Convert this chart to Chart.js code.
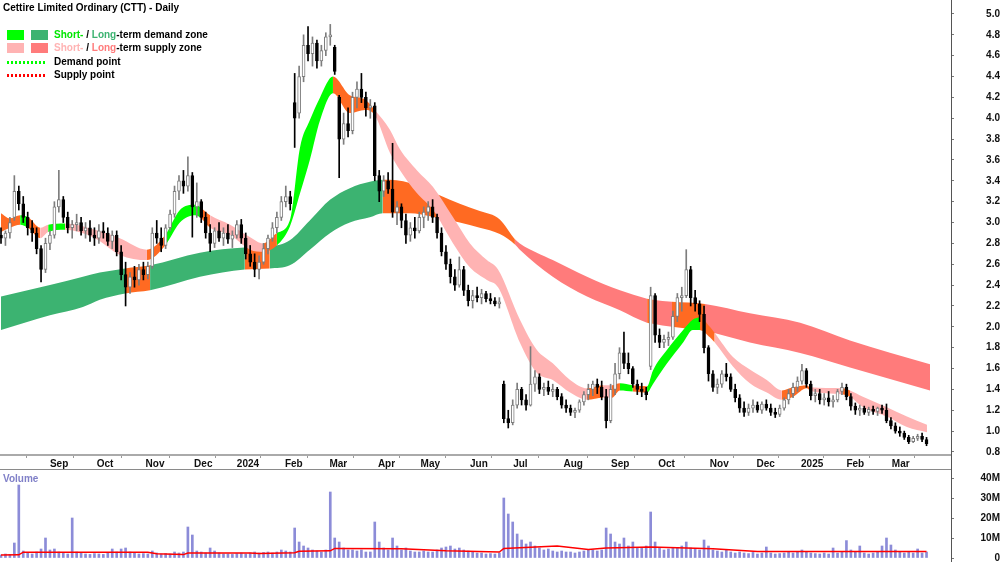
<!DOCTYPE html>
<html>
<head>
<meta charset="utf-8">
<title>Cettire Limited Ordinary (CTT) - Daily</title>
<script src="https://cdn.jsdelivr.net/npm/chart.js@4.4.1/dist/chart.umd.min.js"></script>
<style>
  html, body { margin:0; padding:0; background:#fff; }
  #wrap { position:relative; width:1000px; height:562px; overflow:hidden; background:#fff; }
  canvas { position:absolute; left:0; }
  #price { top:0; }
  #vol { top:470px; }
  .lbl { position:absolute; font:bold 10px "Liberation Sans", Arial, sans-serif; line-height:12px; white-space:nowrap; color:#000; }
  .sw { position:absolute; width:17px; height:10px; }
  .dot { position:absolute; width:38px; height:3px; }
</style>
</head>
<body>
<div id="wrap">
  <canvas id="price" width="1000" height="470"></canvas>
  <canvas id="vol" width="1000" height="92"></canvas>
  <div class="lbl" style="left:3px;top:2px;">Cettire Limited Ordinary (CTT) - Daily</div>
  <div class="sw" style="left:7px;top:30px;background:#00ff00"></div>
  <div class="sw" style="left:31px;top:30px;background:#3cb371"></div>
  <div class="lbl" style="left:54px;top:29px;"><span style="color:#00e600">Short-</span> / <span style="color:#3cb371">Long</span>-term demand zone</div>
  <div class="sw" style="left:7px;top:43px;background:#ffb3b3"></div>
  <div class="sw" style="left:31px;top:43px;background:#ff7b7b"></div>
  <div class="lbl" style="left:54px;top:42px;"><span style="color:#ffb3b3">Short-</span> / <span style="color:#ff7b7b">Long</span>-term supply zone</div>
  <div class="dot" style="left:7px;top:61px;background:repeating-linear-gradient(90deg,#00ff00 0 2px,transparent 2px 4px)"></div>
  <div class="lbl" style="left:54px;top:56px;">Demand point</div>
  <div class="dot" style="left:7px;top:74px;background:repeating-linear-gradient(90deg,#ff0000 0 2px,transparent 2px 4px)"></div>
  <div class="lbl" style="left:54px;top:69px;">Supply point</div>
  <div class="lbl" style="left:3px;top:473px;color:#8080c8;">Volume</div>
</div>
<script>
// ---------------- DATA (price in A$, volume in millions) ----------------
const openP = [
 2.88,2.85,2.90,3.05,3.30,3.18,3.05,2.95,2.90,2.75,2.55,2.80,
 2.88,3.15,3.22,3.05,2.95,2.98,3.00,2.92,2.95,2.88,2.85,2.92,2.90,2.82,2.88,2.72,
 2.50,2.38,2.48,2.45,2.55,2.50,2.58,2.90,2.85,2.78,2.95,3.08,3.30,3.40,3.35,3.45,3.15,
 3.20,3.05,2.90,2.80,2.92,2.85,2.90,2.84,2.88,2.98,2.85,2.70,2.62,2.55,2.62,2.75,
 2.85,2.95,3.05,3.20,3.25,4.15,4.05,4.40,4.70,4.62,4.72,4.55,4.65,4.78,4.68,
 4.20,3.80,3.95,3.88,4.20,4.28,4.20,4.10,4.12,3.45,3.30,3.40,3.32,3.10,3.15,
 3.02,2.88,2.95,2.92,3.05,3.10,3.15,3.05,2.90,2.72,2.60,2.48,2.40,2.55,2.35,2.25,2.30,2.28,2.32,2.27,2.25,2.22,
 1.45,1.12,1.08,1.25,1.40,1.30,1.25,1.45,1.52,1.40,1.42,1.38,1.40,1.33,1.25,1.22,1.18,1.20,1.28,1.35,1.40,1.45,1.42,
 1.33,1.10,1.40,1.55,1.75,1.65,1.60,1.45,1.40,1.38,1.62,2.30,1.92,1.85,1.88,1.90,2.10,2.28,2.30,2.55,2.28,2.22,2.12,1.80,1.55,
 1.42,1.45,1.55,1.52,1.40,1.32,1.22,1.18,1.22,1.25,1.20,1.26,1.22,1.18,1.16,1.22,1.30,1.36,1.42,1.48,1.58,1.45,1.34,1.36,
 1.30,1.32,1.28,1.30,1.38,1.42,1.33,1.24,1.20,1.22,1.18,1.21,1.19,1.22,1.20,1.10,1.05,1.00,0.98,0.94,0.90,0.93,0.95,0.92
];
const highP = [
 2.95,2.92,3.05,3.45,3.35,3.25,3.10,3.02,2.95,2.78,2.85,2.92,
 3.20,3.50,3.25,3.10,3.02,3.08,3.05,3.00,3.02,2.95,2.98,3.00,2.95,2.92,2.92,2.78,
 2.62,2.52,2.58,2.60,2.62,2.62,2.95,3.02,2.95,2.98,3.12,3.35,3.45,3.50,3.63,3.48,3.38,
 3.22,3.10,2.98,2.95,3.00,2.95,2.98,2.92,3.02,3.03,2.90,2.78,2.70,2.68,2.80,2.88,
 3.00,3.10,3.25,3.35,3.30,4.43,4.50,4.80,4.88,4.78,4.75,4.70,4.82,4.90,4.70,
 4.22,4.05,4.10,4.25,4.35,4.43,4.25,4.18,4.15,3.50,3.45,3.48,3.76,3.20,3.18,
 3.08,3.00,3.05,3.10,3.15,3.20,3.22,3.08,2.95,2.78,2.65,2.55,2.67,2.58,2.40,2.35,2.38,2.36,2.34,2.32,2.28,2.28,
 1.48,1.20,1.30,1.46,1.42,1.35,1.81,1.58,1.55,1.46,1.48,1.45,1.42,1.36,1.30,1.25,1.22,1.30,1.38,1.45,1.48,1.50,1.48,
 1.40,1.45,1.65,1.80,1.95,1.75,1.62,1.49,1.46,1.42,2.38,2.32,1.98,1.92,1.95,2.15,2.32,2.38,2.74,2.58,2.35,2.25,2.20,1.82,1.58,
 1.50,1.58,1.65,1.55,1.45,1.35,1.28,1.26,1.30,1.28,1.28,1.30,1.26,1.22,1.25,1.32,1.40,1.46,1.52,1.64,1.60,1.48,1.40,1.40,
 1.36,1.38,1.34,1.40,1.46,1.45,1.36,1.27,1.25,1.24,1.23,1.24,1.23,1.25,1.26,1.13,1.08,1.04,1.00,0.96,0.95,0.97,0.98,0.94
];
const lowP = [
 2.80,2.78,2.85,3.02,3.12,3.00,2.88,2.82,2.70,2.43,2.52,2.74,
 2.85,3.10,3.00,2.90,2.85,2.92,2.88,2.85,2.82,2.78,2.80,2.85,2.78,2.75,2.68,2.45,
 2.20,2.32,2.38,2.40,2.45,2.46,2.56,2.80,2.72,2.75,2.92,3.05,3.22,3.28,3.30,2.86,3.05,
 3.00,2.85,2.72,2.76,2.82,2.78,2.80,2.76,2.85,2.80,2.65,2.58,2.48,2.46,2.60,2.70,
 2.82,2.90,3.02,3.15,3.12,3.72,4.00,4.35,4.55,4.50,4.48,4.50,4.60,4.70,4.42,
 3.43,3.75,3.82,3.85,4.10,4.15,4.02,4.00,3.40,3.20,3.25,3.28,3.05,2.98,2.95,
 2.80,2.82,2.85,2.90,2.95,3.02,3.00,2.85,2.68,2.55,2.42,2.35,2.38,2.30,2.20,2.18,2.24,2.22,2.24,2.22,2.20,2.18,
 1.08,1.03,1.06,1.22,1.25,1.20,1.24,1.38,1.36,1.34,1.35,1.33,1.30,1.22,1.18,1.15,1.13,1.18,1.25,1.30,1.34,1.36,1.30,
 1.03,1.08,1.35,1.50,1.60,1.55,1.42,1.35,1.33,1.30,1.59,1.85,1.80,1.80,1.82,1.88,2.05,2.15,2.28,2.20,2.15,2.05,1.75,1.48,1.38,
 1.36,1.42,1.48,1.38,1.28,1.18,1.14,1.15,1.18,1.18,1.17,1.20,1.15,1.13,1.14,1.20,1.26,1.32,1.38,1.45,1.42,1.30,1.28,1.26,
 1.25,1.24,1.23,1.28,1.35,1.30,1.20,1.16,1.15,1.16,1.15,1.16,1.15,1.17,1.08,1.02,0.98,0.95,0.92,0.88,0.89,0.91,0.90,0.86
];
const closeP = [
 2.85,2.90,3.00,3.30,3.18,3.05,2.95,2.90,2.75,2.55,2.80,2.88,
 3.15,3.22,3.05,2.95,2.98,3.00,2.92,2.95,2.88,2.85,2.92,2.90,2.82,2.88,2.72,2.50,
 2.38,2.48,2.45,2.55,2.50,2.58,2.90,2.85,2.78,2.95,3.08,3.30,3.40,3.35,3.45,3.15,3.20,
 3.05,2.90,2.80,2.92,2.85,2.90,2.84,2.88,2.98,2.85,2.70,2.62,2.55,2.62,2.75,2.85,
 2.95,3.05,3.20,3.25,3.18,4.00,4.40,4.70,4.62,4.72,4.55,4.65,4.78,4.80,4.45,
 3.80,3.95,3.88,4.20,4.28,4.20,4.10,4.12,3.45,3.30,3.40,3.32,3.10,3.15,3.02,
 2.88,2.95,2.92,3.05,3.10,3.15,3.05,2.90,2.72,2.60,2.48,2.40,2.55,2.35,2.25,2.30,2.28,2.32,2.27,2.25,2.22,2.24,
 1.12,1.08,1.25,1.40,1.30,1.25,1.45,1.52,1.40,1.42,1.38,1.40,1.33,1.25,1.22,1.18,1.20,1.28,1.35,1.40,1.45,1.42,1.33,
 1.10,1.40,1.55,1.75,1.65,1.60,1.45,1.40,1.38,1.35,2.30,1.92,1.85,1.88,1.90,2.10,2.28,2.30,2.55,2.28,2.22,2.12,1.80,1.55,1.42,
 1.45,1.55,1.52,1.40,1.32,1.22,1.18,1.22,1.25,1.20,1.26,1.22,1.18,1.16,1.22,1.30,1.36,1.42,1.48,1.58,1.45,1.34,1.36,1.30,
 1.32,1.28,1.30,1.38,1.42,1.33,1.24,1.20,1.22,1.18,1.21,1.19,1.22,1.20,1.10,1.05,1.00,0.98,0.94,0.90,0.93,0.95,0.92,0.88
];
const volumeM = [
 1.5,2.0,1.8,7.5,36.5,3.5,2.5,2.0,3.0,4.5,10.0,4.0,
 4.5,3.0,2.5,2.0,20.0,3.0,2.5,2.0,1.8,2.2,2.0,1.8,2.5,4.5,3.0,4.5,
 5.0,3.0,2.5,2.0,2.2,2.0,3.5,2.5,2.0,2.2,2.0,3.0,2.5,3.0,15.5,11.5,3.5,
 3.0,2.5,5.0,3.5,2.5,2.0,2.0,1.8,2.2,2.5,2.0,2.5,3.0,2.5,2.8,3.0,
 2.5,3.0,4.0,3.5,3.0,15.0,8.0,6.0,5.0,4.0,3.5,3.0,4.0,33.0,10.0,
 8.0,5.0,4.0,4.0,3.5,4.0,3.0,3.0,18.0,8.0,5.0,4.0,10.0,6.0,4.0,
 5.0,3.5,3.0,3.0,3.5,3.0,3.0,4.0,5.0,5.5,6.0,4.5,5.0,4.0,3.5,3.0,2.5,2.5,2.0,2.2,2.0,2.5,
 30.0,22.0,18.0,12.0,9.0,7.0,8.0,6.0,5.0,4.0,4.5,3.5,3.0,3.5,3.0,3.0,2.5,3.0,3.5,4.0,4.0,3.5,4.0,
 15.0,12.0,8.0,7.0,10.0,6.0,8.0,5.0,5.0,6.0,23.0,8.0,5.0,4.0,4.5,5.0,5.0,6.0,8.0,5.0,4.5,4.0,9.0,6.0,4.0,
 3.5,3.0,4.0,3.0,2.5,3.0,2.5,2.2,2.8,2.0,2.5,5.5,2.5,2.0,2.2,2.5,3.0,2.5,3.0,4.0,3.0,2.5,2.2,2.0,
 2.5,2.0,5.0,2.5,3.0,8.7,4.0,3.0,6.0,2.5,2.0,2.5,3.0,6.0,10.0,6.5,4.0,3.0,2.5,3.0,2.5,4.5,2.5,3.0
];
// volume moving average (session index, millions)
const volMaX = [0,4,5,33,35,41,42,56,58,66,67,74,75,90,100,112,113,125,132,136,146,160,170,208];
const volMaY = [1.5,1.6,2.9,2.9,2.1,1.7,2.5,2.5,2.2,2.6,3.4,3.6,4.8,4.6,3.6,3.0,4.8,6.0,4.2,5.0,5.5,4.6,3.2,3.2];

// long-term zone (session index, upper, lower, state: D demand, S supply, O undecided)
const ltX  = [0,11,18.4,22.2,27.9,33.5,44.7,54.8,60.4,64.9,69.4,74,78.4,82.9,85.8,91.9,94.2,98.7,103.1,107.6,112.1,115.5,116.6,124,131.7,139.1,145.2,146.5,150.8,158.2,168.3,179.6,190.8,208.8];
const ltHi = [2.29,2.40,2.48,2.52,2.56,2.59,2.71,2.76,2.77,2.83,3.02,3.22,3.33,3.39,3.41,3.38,3.33,3.26,3.18,3.11,3.03,2.84,2.80,2.64,2.48,2.35,2.27,2.26,2.24,2.22,2.13,2.04,1.87,1.64];
const ltLo = [1.97,2.11,2.19,2.26,2.32,2.35,2.48,2.55,2.56,2.59,2.74,2.90,3.00,3.05,3.09,3.09,3.08,3.04,3.00,2.95,2.89,2.79,2.74,2.48,2.29,2.16,2.04,2.03,2.00,1.96,1.85,1.75,1.61,1.39];
const ltState = "DDDDODDODDDDDDOOOOOOOSSSSSOSOSSSSS";

// short-term zone (session index, upper, lower, state: G demand, S supply, O undecided)
const stX  = [0,2,4.3,6.1,8.8,10.6,14.4,21.1,26.7,32.8,36.9,40.2,43.6,44.7,47,51.5,56,58.9,62,64.9,67.2,69.4,71.7,74.6,78.4,81.8,84,87.4,89.7,93.5,97.1,101.6,105.4,109.2,111.7,116.6,120.4,124,127.9,131.7,135.3,137.3,139.1,142,145.2,146.5,149.7,153.3,155.5,157.1,159.3,160.4,164.5,168.3,172.1,175.5,178,181.1,181.8,189.2,190.8,193.7,199.1,203.6,208.1];
const stHi = [3.09,3.04,3.07,3.05,2.95,2.98,2.99,2.93,2.85,2.74,2.88,3.12,3.17,3.15,3.07,2.98,2.86,2.80,2.90,3.02,3.72,3.98,4.20,4.40,4.22,4.18,4.08,3.89,3.70,3.50,3.34,3.05,2.80,2.64,2.55,2.07,1.78,1.65,1.49,1.41,1.44,1.44,1.46,1.44,1.43,1.58,1.78,1.97,2.07,2.09,2.00,1.94,1.71,1.59,1.49,1.39,1.42,1.44,1.42,1.41,1.39,1.33,1.23,1.14,1.06];
const stLo = [2.91,2.95,2.98,2.95,2.85,2.91,2.93,2.85,2.69,2.64,2.78,3.00,3.07,3.05,2.95,2.88,2.74,2.72,2.78,2.96,3.28,3.60,3.98,4.24,4.05,4.08,4.03,3.67,3.50,3.28,3.12,2.80,2.57,2.45,2.38,1.85,1.56,1.49,1.37,1.30,1.32,1.32,1.39,1.38,1.37,1.45,1.65,1.85,1.97,1.97,1.90,1.85,1.62,1.46,1.37,1.30,1.33,1.41,1.39,1.35,1.33,1.23,1.14,1.04,0.99];
const stState = "OOGOSGSSSOGGGOSSSOGGGGGOOOSSSSSSSSSSSSSOSOGOGGGGGOOSSSSOOOSOSSSSS";

// axis ticks
const monthLabels = ['Sep','Oct','Nov','Dec','2024','Feb','Mar','Apr','May','Jun','Jul','Aug','Sep','Oct','Nov','Dec','2025','Feb','Mar'];
const monthPos    = [11.0,21.5,32.5,43.4,53.0,63.8,73.8,84.7,94.3,105.4,115.1,126.4,137.1,147.7,159.3,169.8,179.8,190.0,200.2];
const priceTicks  = [0.8,1.0,1.2,1.4,1.6,1.8,2.0,2.2,2.4,2.6,2.8,3.0,3.2,3.4,3.6,3.8,4.0,4.2,4.4,4.6,4.8,5.0];
const volTicks    = [0,10,20,30,40];

// ---------------- RENDER ----------------
const FONT = '"Liberation Sans", Arial, sans-serif';
Chart.defaults.font.family = FONT;
const X_MIN = -0.225, X_MAX = 213.5;
const ST_COL = {G:'#00ff00', S:'#ffb3b3', O:'#ff6a22'};
const LT_COL = {D:'#3cb371', S:'#ff7b7b', O:'#ff6a22'};
const UP_COL = '#7d7d7d', DN_COL = '#000000';

const idx = openP.map((_, i) => i);
const isUp = idx.map(i => closeP[i] >= openP[i]);

function bandSets(xs, hi, lo, state, cols, order) {
  return [
    { type:'line', data: xs.map((x,i)=>({x, y: hi[i]})), borderWidth:0, pointRadius:0, fill:false,
      cubicInterpolationMode:'monotone', order: order + 1 },
    { type:'line', data: xs.map((x,i)=>({x, y: lo[i]})), borderWidth:0, pointRadius:0, fill:'-1',
      backgroundColor: cols[state[0]], cubicInterpolationMode:'monotone', order: order,
      segment: { backgroundColor: c => cols[state[c.p0DataIndex]] } }
  ];
}

function fixPad(ax) { ax.paddingTop = 0; ax.paddingBottom = 0; ax.paddingLeft = 0; ax.paddingRight = 0; }

const framePlugin = {
  id: 'frame',
  afterDraw(chart) {
    const ctx = chart.ctx, a = chart.chartArea;
    ctx.save();
    ctx.lineWidth = 1;
    if (chart.canvas.id === 'price') {
      ctx.strokeStyle = '#8a8a8a';
      ctx.beginPath(); ctx.moveTo(0, chart.height - 0.5); ctx.lineTo(a.right, chart.height - 0.5); ctx.stroke();
    }
    ctx.strokeStyle = '#555';
    ctx.beginPath(); ctx.moveTo(a.right + 0.5, a.bottom); ctx.lineTo(a.right + 0.5, chart.height); ctx.stroke();
    ctx.restore();
  }
};

const tickFont = {family: FONT, size: 10, weight: 'bold'};

new Chart(document.getElementById('price'), {
  type: 'bar',
  data: {
    datasets: [
      ...bandSets(ltX, ltHi, ltLo, ltState, LT_COL, 5),
      ...bandSets(stX, stHi, stLo, stState, ST_COL, 3),
      { type:'bar', data: idx.map(i => ({x: i, y: [lowP[i], highP[i]]})), grouped:false,
        barThickness: 1, backgroundColor: idx.map(i => isUp[i] ? UP_COL : DN_COL), borderWidth: 0, order: 2 },
      { type:'bar', data: idx.map(i => ({x: i, y: [openP[i], closeP[i]]})), grouped:false,
        barThickness: 3, backgroundColor: idx.map(i => isUp[i] ? '#ffffff' : DN_COL),
        borderColor: idx.map(i => isUp[i] ? UP_COL : DN_COL), borderWidth: 1, borderSkipped: false, order: 1 }
    ]
  },
  options: {
    responsive: false, animation: false, devicePixelRatio: 1, events: [],
    layout: { padding: 0 },
    plugins: { legend: {display: false}, tooltip: {enabled: false} },
    scales: {
      x: {
        type: 'linear', min: X_MIN, max: X_MAX, offset: false,
        afterBuildTicks: ax => { ax.ticks = monthPos.map(v => ({value: v})); },
        afterFit: ax => { ax.height = 15; fixPad(ax); },
        ticks: { autoSkip: false, maxRotation: 0, minRotation: 0, align: 'start', padding: 0,
                 font: tickFont, color: '#111', callback: (v, i) => monthLabels[i] },
        grid: { display: true, drawOnChartArea: false, drawTicks: true, tickLength: 3, color: '#999' },
        border: { display: true, color: '#aaa', width: 2 }
      },
      y: {
        position: 'right', min: 0.771, max: 5.134,
        afterBuildTicks: ax => { ax.ticks = priceTicks.map(v => ({value: v})); },
        afterFit: ax => { ax.width = 49; fixPad(ax); },
        ticks: { crossAlign: 'far', padding: 26, font: tickFont, color: '#111', callback: v => Number(v).toFixed(1) },
        grid: { display: true, drawOnChartArea: false, drawTicks: true, tickLength: 3, color: '#777' },
        border: { display: true, color: '#555', width: 1 }
      }
    }
  },
  plugins: [framePlugin]
});

new Chart(document.getElementById('vol'), {
  type: 'bar',
  data: {
    datasets: [
      { type:'line', data: volMaX.map((x,i)=>({x, y: volMaY[i]})), borderColor:'#ff0000', borderWidth:1.5,
        pointRadius:0, fill:false, order: 1 },
      { type:'bar', data: idx.map(i => ({x: i, y: volumeM[i]})), grouped:false, barThickness: 2,
        backgroundColor: '#8c8cd8', borderWidth: 0, order: 2 }
    ]
  },
  options: {
    responsive: false, animation: false, devicePixelRatio: 1, events: [],
    layout: { padding: {bottom: 4} },
    plugins: { legend: {display: false}, tooltip: {enabled: false} },
    scales: {
      x: { type: 'linear', min: X_MIN, max: X_MAX, offset: false, display: false },
      y: {
        position: 'right', min: 0, max: 44,
        afterBuildTicks: ax => { ax.ticks = volTicks.map(v => ({value: v})); },
        afterFit: ax => { ax.width = 49; fixPad(ax); },
        ticks: { crossAlign: 'far', padding: 20, font: tickFont, color: '#111', callback: v => v === 0 ? '0' : v + 'M' },
        grid: { display: true, drawOnChartArea: false, drawTicks: true, tickLength: 3, color: '#777' },
        border: { display: true, color: '#555', width: 1 }
      }
    }
  },
  plugins: [framePlugin]
});
</script>
</body>
</html>
